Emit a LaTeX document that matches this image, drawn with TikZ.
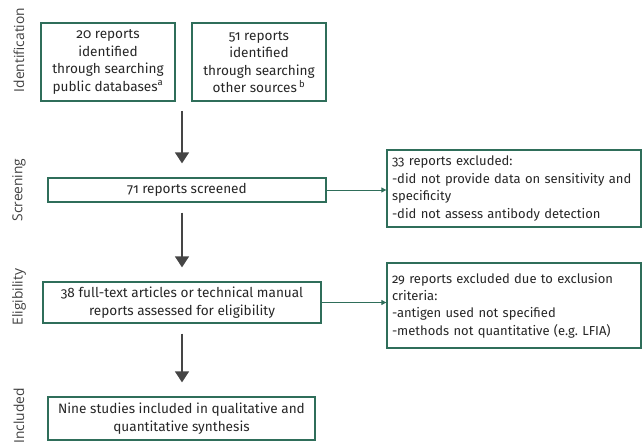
\documentclass[tikz,border=0pt]{standalone}
\usepackage{fontspec}
\setmainfont{Fira Sans}[Numbers=OldStyle]
\newfontfamily\sidefont{Open Sans}
\usetikzlibrary{arrows.meta,calc}
\definecolor{boxgreen}{HTML}{2F6E5A}
\definecolor{arrowgray}{HTML}{454545}
\tikzset{
  box/.style={draw=boxgreen, line width=1.3pt, align=center, inner sep=3pt,
    font=\fontsize{13.6}{17.4}\selectfont, text=black!85},
  notebox/.style={box, align=left, inner xsep=5pt, font=\fontsize{13}{17.4}\selectfont},
  flow/.style={draw=arrowgray, line width=1.6pt, -{Triangle[length=11pt,width=14pt]},
    shorten <=10pt, shorten >=14pt},
  side/.style={rotate=90, font=\sidefont\fontsize{13.8}{16}\selectfont, text=black!75},
  excl/.style={draw=boxgreen, line width=0.9pt, -{Triangle[length=5pt,width=5pt]}}
}
\begin{document}
\begin{tikzpicture}[x=1pt,y=-1pt]
% Parameters
\def\stemX{182}
\useasboundingbox (0,0) rectangle (643,446);

% Stage labels
\node[side] (lid) at (19,50) {Identification};
\node[side] (lscr) at (19,190) {Screening};
\node[side] (lelig) at (19,297) {Eligibility};
\node[side] (lincl) at (19,416) {Included};

% Identification
\node[box, minimum width=134pt, minimum height=78pt] (dbase) at (108,62)
  {20 reports\\identified\\through searching\\public databases\textsuperscript{a}};
\node[box, minimum width=134pt, minimum height=78pt] (other) at (259,62)
  {51 reports\\identified\\through searching\\other sources\,\textsuperscript{b}};
\coordinate (merge) at (\stemX,101);

% Screening
\node[box, minimum width=278pt, minimum height=24pt] (screen) at (187,190) {71 reports screened};
\node[notebox, text width=244pt, minimum height=77pt] (drop1) at (514,188.5)
  {33 reports excluded:\\-did not provide data on sensitivity and\\specificity\\-did not assess antibody detection};

% Eligibility
\node[box, minimum width=278pt, minimum height=41pt] (elig) at (182,302.5)
  {38 full-text articles or technical manual\\reports assessed for eligibility};
\node[notebox, text width=244pt, minimum height=85pt] (drop2) at (514,305.5)
  {29 reports excluded due to exclusion\\criteria:\\-antigen used not specified\\-methods not quantitative (e.g.\ LFIA)};

% Included
\node[box, minimum width=267pt, minimum height=43pt] (incl) at (181.5,418.5)
  {Nine studies included in qualitative and\\quantitative synthesis};

% Main flow
\draw[flow] (merge) -- (merge |- screen.north);
\draw[flow] (screen.south -| merge) -- (elig.north -| merge);
\draw[flow] (elig.south -| merge) -- (incl.north -| merge);

% Exclusions
\draw[excl] (screen.east) -- (screen.east -| drop1.west);
\draw[excl] (elig.east) -- (elig.east -| drop2.west);

\end{tikzpicture}
\end{document}
